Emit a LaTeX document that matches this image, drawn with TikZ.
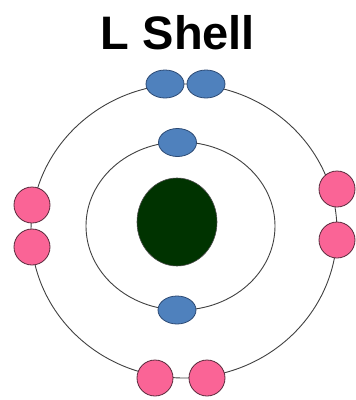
\documentclass[tikz,border=0pt]{standalone}
\usepackage{fontspec}
\setmainfont{Liberation Sans}
\usepackage{tikz}
\usetikzlibrary{shapes.geometric}
\definecolor{orbitC}{HTML}{404040}
\definecolor{blueE}{HTML}{4F81BD}
\definecolor{blueB}{HTML}{2C4A74}
\definecolor{pinkE}{HTML}{FA6496}
\definecolor{pinkB}{HTML}{5A2A3C}
\definecolor{nucC}{HTML}{003300}
\tikzset{
  orbit/.style   ={draw=orbitC, line width=0.9pt},
  eBlue/.style   ={ellipse, draw=blueB, fill=blueE, line width=0.8pt,
                   minimum width=38pt, minimum height=28pt, inner sep=0pt},
  ePink/.style   ={circle, draw=pinkB, fill=pinkE, line width=0.8pt,
                   minimum size=36pt, inner sep=0pt},
  nucleus/.style ={ellipse, draw=black!70, fill=nucC, line width=0.6pt,
                   minimum width=80pt, minimum height=88pt, inner sep=0pt},
  titletext/.style={font=\bfseries\fontsize{47}{50}\selectfont},
}

\begin{document}
\begin{tikzpicture}[x=1pt, y=-1pt]
\useasboundingbox (0,0) rectangle (356,400);

\node[titletext] (title) at (178, 33) {L Shell};

% orbits
\draw[orbit] (184, 231) ellipse [x radius=153, y radius=147];
\draw[orbit] (180.5, 226) ellipse [x radius=94.5, y radius=84];

% nucleus
\node[nucleus] (nuc) at (177, 222) {};

% inner shell
\node[eBlue] (kTop) at (177.5, 142.5) {};
\node[eBlue] (kBot) at (177, 310) {};

% outer shell
\node[eBlue] (lTopA) at (165, 84) {};
\node[eBlue] (lTopB) at (206, 84) {};
\node[ePink] (lLeftA) at (32, 205) {};
\node[ePink] (lLeftB) at (32, 247) {};
\node[ePink] (lRightA) at (337, 189) {};
\node[ePink] (lRightB) at (337, 240) {};
\node[ePink] (lBotA) at (155, 378) {};
\node[ePink] (lBotB) at (207, 378) {};

\end{tikzpicture}
\end{document}
